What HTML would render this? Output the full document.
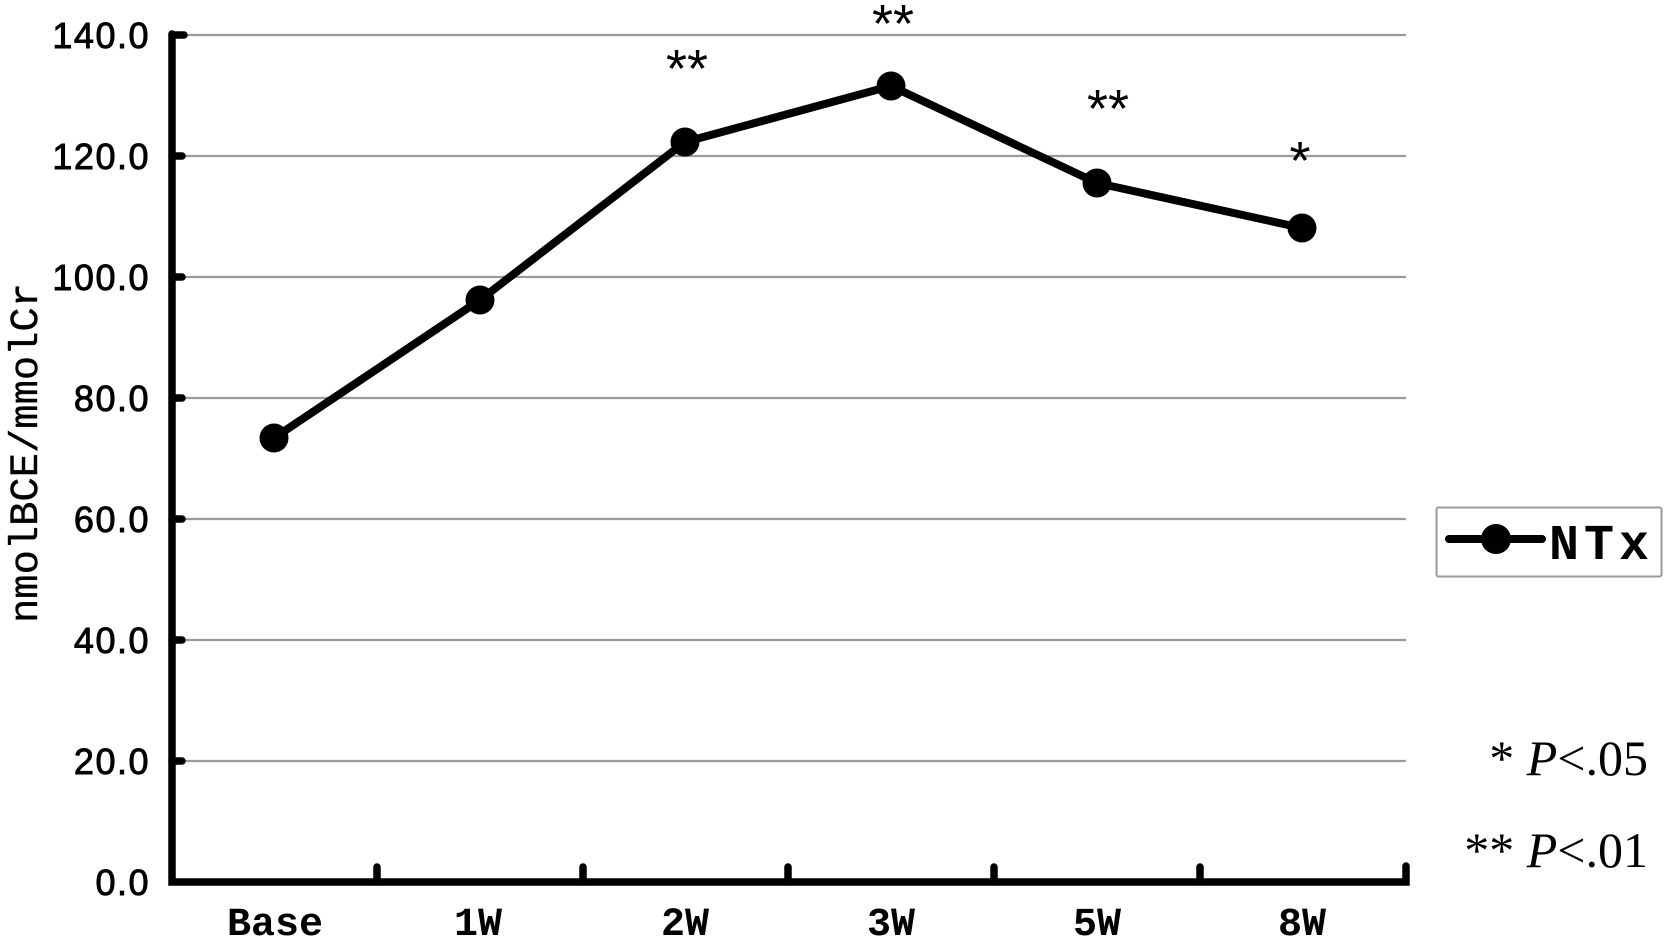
<!DOCTYPE html>
<html>
<head>
<meta charset="utf-8">
<style>
html,body{margin:0;padding:0;background:#fff;}
svg{display:block;}
</style>
</head>
<body>
<svg width="1664" height="938" viewBox="0 0 1664 938" xmlns="http://www.w3.org/2000/svg">
  <rect width="1664" height="938" fill="#fff"/>
  <!-- gridlines -->
  <g stroke="#9a9a9a" stroke-width="2.2">
    <line x1="172" y1="35" x2="1406" y2="35"/>
    <line x1="172" y1="156" x2="1406" y2="156"/>
    <line x1="172" y1="277" x2="1406" y2="277"/>
    <line x1="172" y1="398" x2="1406" y2="398"/>
    <line x1="172" y1="519" x2="1406" y2="519"/>
    <line x1="172" y1="640" x2="1406" y2="640"/>
    <line x1="172" y1="761" x2="1406" y2="761"/>
  </g>
  <!-- axes -->
  <g stroke="#000" stroke-width="7.5" stroke-linecap="round" fill="none">
    <polyline points="172,34 172,882 1406,882 1406,866"/>
    <line x1="172" y1="35" x2="184" y2="35"/>
    <line x1="172" y1="156" x2="182" y2="156"/>
    <line x1="172" y1="277" x2="182" y2="277"/>
    <line x1="172" y1="398" x2="182" y2="398"/>
    <line x1="172" y1="519" x2="182" y2="519"/>
    <line x1="172" y1="640" x2="182" y2="640"/>
    <line x1="172" y1="761" x2="182" y2="761"/>
    <line x1="377" y1="882" x2="377" y2="867"/>
    <line x1="583" y1="882" x2="583" y2="867"/>
    <line x1="788" y1="882" x2="788" y2="867"/>
    <line x1="994" y1="882" x2="994" y2="867"/>
    <line x1="1200" y1="882" x2="1200" y2="867"/>
  </g>
  <!-- y tick labels -->
  <g font-family="'Liberation Sans', Arial, sans-serif" font-size="36" fill="#000" stroke="#000" stroke-width="0.9" text-anchor="end" letter-spacing="1.5">
    <text x="150" y="48">140.0</text>
    <text x="150" y="169">120.0</text>
    <text x="150" y="290">100.0</text>
    <text x="150" y="411">80.0</text>
    <text x="150" y="532">60.0</text>
    <text x="150" y="653">40.0</text>
    <text x="150" y="774">20.0</text>
    <text x="150" y="895">0.0</text>
  </g>
  <!-- y axis title -->
  <text transform="translate(37,453) rotate(-90)" font-family="'Liberation Mono', 'Courier New', monospace" font-size="40" fill="#000" stroke="#000" stroke-width="0.4" text-anchor="middle" textLength="340" lengthAdjust="spacingAndGlyphs">nmolBCE/mmolCr</text>
  <!-- x labels -->
  <g font-family="'Liberation Mono', 'Courier New', monospace" font-weight="bold" font-size="40" fill="#000" text-anchor="middle">
    <text x="275" y="935">Base</text>
    <text x="478" y="935">1W</text>
    <text x="685" y="935">2W</text>
    <text x="891" y="935">3W</text>
    <text x="1097" y="935">5W</text>
    <text x="1302" y="935">8W</text>
  </g>
  <!-- series -->
  <polyline points="274,438 480,300 685,142 891,86 1097,183 1302,228" fill="none" stroke="#000" stroke-width="8" stroke-linejoin="round" stroke-linecap="round"/>
  <g fill="#000">
    <circle cx="274" cy="438" r="14.5"/>
    <circle cx="480" cy="300" r="14.5"/>
    <circle cx="685" cy="142" r="14.5"/>
    <circle cx="891" cy="86" r="14.5"/>
    <circle cx="1097" cy="183" r="14.5"/>
    <circle cx="1302" cy="228" r="14.5"/>
  </g>
  <!-- significance asterisks -->
  <g font-family="'Liberation Sans', Arial, sans-serif" font-size="54" fill="#000" text-anchor="middle">
    <text x="687" y="87">**</text>
    <text x="893" y="42">**</text>
    <text x="1108" y="127">**</text>
    <text x="1300" y="179">*</text>
  </g>
  <!-- legend -->
  <rect x="1436.5" y="507.5" width="225" height="69" rx="2" fill="#fff" stroke="#9a9a9a" stroke-width="2"/>
  <line x1="1449" y1="539" x2="1542" y2="539" stroke="#000" stroke-width="8" stroke-linecap="round"/>
  <circle cx="1496" cy="539" r="15" fill="#000"/>
  <text x="1549" y="559" font-family="'Liberation Mono', 'Courier New', monospace" font-weight="bold" font-size="50" letter-spacing="5" fill="#000">NTx</text>
  <!-- p-value notes -->
  <g font-family="'Liberation Serif', 'Times New Roman', serif" font-size="50" fill="#000" text-anchor="end">
    <text x="1648" y="775">* <tspan font-style="italic">P</tspan>&lt;.05</text>
    <text x="1648" y="867">** <tspan font-style="italic">P</tspan>&lt;.01</text>
  </g>
</svg>
</body>
</html>
